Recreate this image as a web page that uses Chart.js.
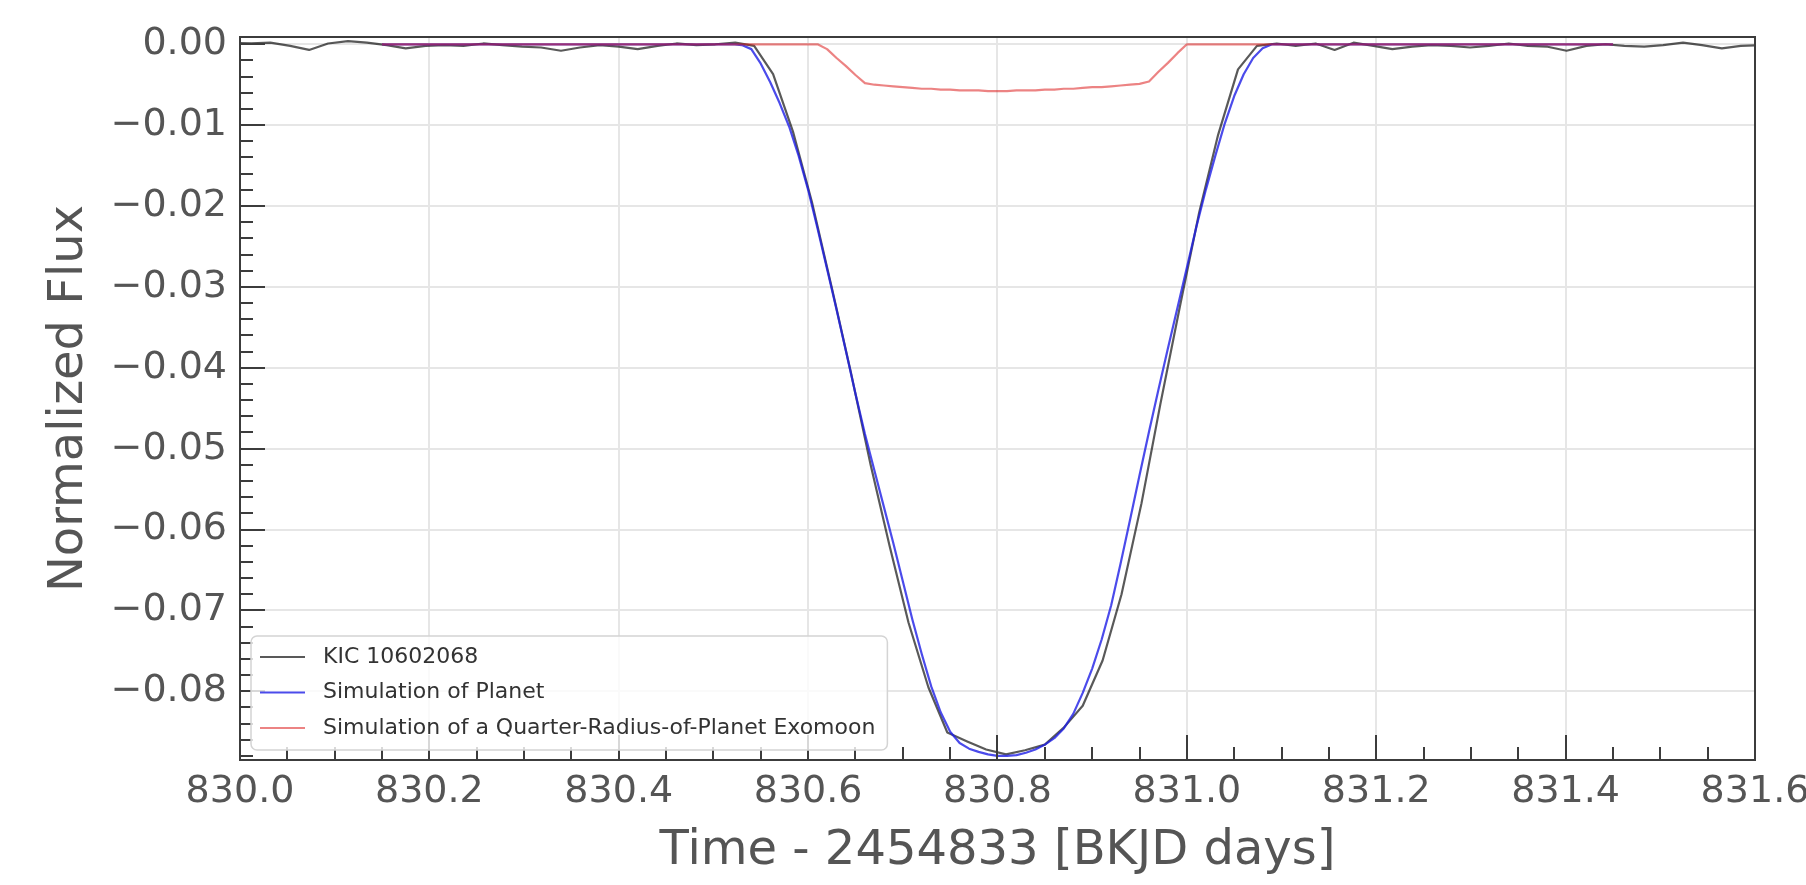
<!DOCTYPE html>
<html>
<head>
<meta charset="utf-8">
<script src="https://cdn.jsdelivr.net/npm/chart.js@4.4.1/dist/chart.umd.min.js"></script>
<style>
  html, body { margin: 0; padding: 0; background: #fff; }
  #lc { display: block; }
</style>
</head>
<body>
<canvas id="lc" width="1806" height="885"></canvas>
<script>
// observed light curve, Kepler long cadence (BKJD - 2454833)
const kicTime = [
  829.991, 830.012, 830.032, 830.053, 830.073, 830.093, 830.114, 830.134, 830.155, 830.175,
  830.196, 830.216, 830.236, 830.257, 830.277, 830.298, 830.318, 830.339, 830.359, 830.380,
  830.400, 830.420, 830.441, 830.461, 830.482, 830.502, 830.523, 830.543, 830.563, 830.584,
  830.604, 830.625, 830.645, 830.666, 830.686, 830.706, 830.727, 830.747, 830.768, 830.788,
  830.809, 830.829, 830.850, 830.870, 830.890, 830.911, 830.931, 830.952, 830.972, 830.993,
  831.013, 831.033, 831.054, 831.074, 831.095, 831.115, 831.136, 831.156, 831.176, 831.197,
  831.217, 831.238, 831.258, 831.279, 831.299, 831.319, 831.340, 831.360, 831.381, 831.401,
  831.422, 831.442, 831.462, 831.483, 831.503, 831.524, 831.544, 831.565, 831.585, 831.606
];
const kicFlux = [
  0.0002, 0.0001, 0.0002, -0.0002, -0.0007, 0.0001, 0.0004, 0.0002, -0.0001, -0.0005,
  -0.0002, -0.0001, -0.0002, 0.0001, -0.0001, -0.0003, -0.0004, -0.0008, -0.0004, -0.0001,
  -0.0003, -0.0006, -0.0002, 0.0001, -0.0001, 0.0000, 0.0002, -0.0002, -0.0037, -0.0108,
  -0.0195, -0.0301, -0.0405, -0.0520, -0.0620, -0.0715, -0.0795, -0.0851, -0.0862, -0.0872,
  -0.0878, -0.0873, -0.0866, -0.0845, -0.0818, -0.0762, -0.0680, -0.0568, -0.0445, -0.0322,
  -0.0208, -0.0112, -0.0031, -0.0002, 0.0001, -0.0002, 0.0001, -0.0007, 0.0002, -0.0002,
  -0.0006, -0.0003, -0.0001, -0.0002, -0.0004, -0.0002, 0.0001, -0.0002, -0.0003, -0.0008,
  -0.0002, 0.0000, -0.0002, -0.0003, -0.0001, 0.0002, -0.0001, -0.0005, -0.0002, -0.0001
];

// model curves
const simTime = [
  830.15,
  830.51, 830.52, 830.53, 830.54, 830.55, 830.56, 830.57, 830.58, 830.59, 830.60,
  830.61, 830.62, 830.63, 830.64, 830.65, 830.66, 830.67, 830.68, 830.69, 830.70,
  830.71, 830.72, 830.73, 830.74, 830.75, 830.76, 830.77, 830.78, 830.79, 830.80,
  830.81, 830.82, 830.83, 830.84, 830.85, 830.86, 830.87, 830.88, 830.89, 830.90,
  830.91, 830.92, 830.93, 830.94, 830.95, 830.96, 830.97, 830.98, 830.99, 831.00,
  831.01, 831.02, 831.03, 831.04, 831.05, 831.06, 831.07, 831.08, 831.09, 831.10,
  831.45
];
const planetFlux = [
  0,
  0, 0, -0.0001, -0.0006, -0.0024, -0.0047, -0.0073, -0.0102, -0.0138, -0.0180,
  -0.0228, -0.0278, -0.0328, -0.0380, -0.0432, -0.0482, -0.0527, -0.0572, -0.0617, -0.0664,
  -0.0711, -0.0754, -0.0794, -0.0826, -0.0850, -0.0864, -0.0871, -0.0875, -0.0878, -0.0880,
  -0.0880, -0.0879, -0.0876, -0.0872, -0.0866, -0.0858, -0.0846, -0.0828, -0.0802, -0.0772,
  -0.0736, -0.0694, -0.0642, -0.0588, -0.0533, -0.0479, -0.0427, -0.0376, -0.0326, -0.0276,
  -0.0226, -0.0180, -0.0138, -0.0098, -0.0064, -0.0037, -0.0017, -0.0005, 0, 0,
  0
];
const moonFlux = [
  0,
  0, 0, 0, 0, 0, 0, 0, 0, 0, 0,
  0, -0.0006, -0.0017, -0.0027, -0.0038, -0.0048, -0.0050, -0.0051, -0.0052, -0.0053,
  -0.0054, -0.0055, -0.0055, -0.0056, -0.0056, -0.0057, -0.0057, -0.0057, -0.0058, -0.0058,
  -0.0058, -0.0057, -0.0057, -0.0057, -0.0056, -0.0056, -0.0055, -0.0055, -0.0054, -0.0053,
  -0.0053, -0.0052, -0.0051, -0.0050, -0.0049, -0.0046, -0.0034, -0.0023, -0.0011, 0,
  0, 0, 0, 0, 0, 0, 0, 0, 0, 0,
  0
];

const seriesLabels = [
  'KIC 10602068',
  'Simulation of Planet',
  'Simulation of a Quarter-Radius-of-Planet Exomoon'
];
const xTickVals = [830.0, 830.2, 830.4, 830.6, 830.8, 831.0, 831.2, 831.4, 831.6];
const yTickVals = [0, -0.01, -0.02, -0.03, -0.04, -0.05, -0.06, -0.07, -0.08];
const xRange = [830.0, 831.6];
const yRange = [-0.0885, 0.0009];

const FONT = 'DejaVu Sans';
const INK = '#555555';

const toPoints = (xs, ys) => xs.map((x, i) => ({ x, y: ys[i] }));

// matplotlib-like inward ticks + frame
const mplAxes = {
  id: 'mplAxes',
  afterDatasetsDraw(chart) {
    const { ctx, chartArea: a, scales: { x, y } } = chart;
    ctx.save();
    ctx.strokeStyle = '#3c3c3c';
    ctx.lineWidth = 2;
    ctx.beginPath();
    for (let i = 0; i <= 32; i++) {
      const px = Math.round(x.getPixelForValue(xRange[0] + i * 0.05));
      const len = i % 4 === 0 ? 25 : 13;
      ctx.moveTo(px, a.bottom);
      ctx.lineTo(px, a.bottom - len);
    }
    for (let i = 0; i <= 44; i++) {
      const py = Math.round(y.getPixelForValue(-i * 0.002));
      const len = i % 5 === 0 ? 25 : 13;
      ctx.moveTo(a.left, py);
      ctx.lineTo(a.left + len, py);
    }
    ctx.stroke();
    ctx.strokeRect(a.left, a.top, a.right - a.left, a.bottom - a.top);
    ctx.restore();
  }
};

const mplLegend = {
  id: 'mplLegend',
  afterDraw(chart) {
    const { ctx, chartArea: a } = chart;
    const sets = chart.data.datasets;
    ctx.save();
    ctx.font = '22px "' + FONT + '"';
    const textW = Math.max(...sets.map(d => ctx.measureText(d.label).width));
    const w = 72 + textW + 12;
    const h = 114;
    const left = a.left + 11;
    const top = a.bottom - 10 - h;
    ctx.beginPath();
    ctx.roundRect(left, top, w, h, 6);
    ctx.fillStyle = 'rgba(255,255,255,0.8)';
    ctx.fill();
    ctx.strokeStyle = '#d4d4d4';
    ctx.lineWidth = 1.5;
    ctx.stroke();
    sets.forEach((d, i) => {
      const cy = top + 21 + i * 35.5;
      ctx.strokeStyle = d.borderColor;
      ctx.lineWidth = 2;
      ctx.beginPath();
      ctx.moveTo(left + 9, cy);
      ctx.lineTo(left + 54, cy);
      ctx.stroke();
      ctx.fillStyle = '#333333';
      ctx.textBaseline = 'middle';
      ctx.fillText(d.label, left + 72, cy);
    });
    ctx.restore();
  }
};

new Chart(document.getElementById('lc'), {
  type: 'line',
  data: {
    datasets: [
      {
        label: seriesLabels[0],
        data: toPoints(kicTime, kicFlux),
        borderColor: 'rgba(0,0,0,0.65)',
        order: 2
      },
      {
        label: seriesLabels[1],
        data: toPoints(simTime, planetFlux),
        borderColor: 'rgba(30,30,230,0.8)',
        order: 1
      },
      {
        label: seriesLabels[2],
        data: toPoints(simTime, moonFlux),
        borderColor: 'rgba(220,30,30,0.55)',
        order: 0
      }
    ]
  },
  options: {
    responsive: false,
    animation: false,
    devicePixelRatio: 1,
    layout: { padding: { top: 37, right: 51, bottom: 0, left: 0 } },
    elements: {
      line: { tension: 0, borderWidth: 2.2, borderJoinStyle: 'round', fill: false },
      point: { radius: 0 }
    },
    plugins: {
      legend: { display: false },
      tooltip: { enabled: false }
    },
    scales: {
      x: {
        type: 'linear',
        min: xRange[0],
        max: xRange[1],
        bounds: 'data',
        afterBuildTicks: s => { s.ticks = xTickVals.map(v => ({ value: v })); },
        afterFit: s => { s.height = 125; s.paddingLeft = 0; s.paddingRight = 0; },
        grid: { color: '#e6e6e6', lineWidth: 2, drawTicks: false },
        border: { display: false },
        ticks: {
          autoSkip: false,
          maxRotation: 0,
          padding: 9,
          color: INK,
          font: { family: FONT, size: 38 },
          callback: v => v.toFixed(1)
        },
        title: {
          display: true,
          text: 'Time - 2454833 [BKJD days]',
          color: INK,
          font: { family: FONT, size: 48 },
          padding: { top: 0, bottom: 5 }
        }
      },
      y: {
        type: 'linear',
        min: yRange[0],
        max: yRange[1],
        bounds: 'data',
        afterBuildTicks: s => { s.ticks = yTickVals.map(v => ({ value: v })); },
        afterFit: s => { s.width = 240; s.paddingTop = 0; s.paddingBottom = 0; },
        grid: { color: '#e6e6e6', lineWidth: 2, drawTicks: false },
        border: { display: false },
        ticks: {
          autoSkip: false,
          padding: 13,
          color: INK,
          font: { family: FONT, size: 38 },
          callback: v => (v === 0 ? '0.00' : '\u2212' + Math.abs(v).toFixed(2))
        },
        title: {
          display: true,
          text: 'Normalized Flux',
          color: INK,
          font: { family: FONT, size: 48 },
          padding: { top: 41, bottom: 0 }
        }
      }
    }
  },
  plugins: [mplAxes, mplLegend]
});
</script>
</body>
</html>
